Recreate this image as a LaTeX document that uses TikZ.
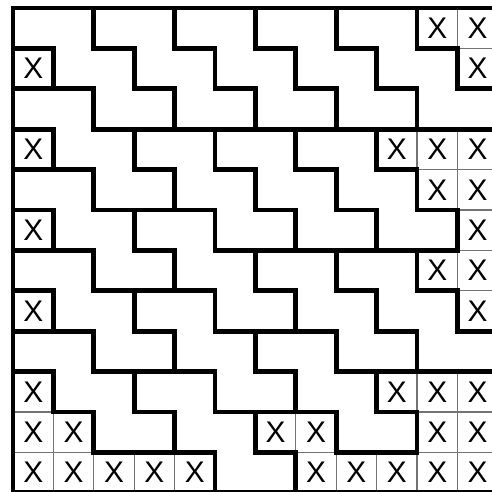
\documentclass[tikz,border=0pt]{standalone}
\usepackage{fontspec}
\setmainfont{Liberation Sans}

\begin{document}
\begin{tikzpicture}[
   every node/.style={font=\fontsize{21}{24}\selectfont},
   xcell/.style={draw=black!55,line width=0.8pt,minimum size=1cm,inner sep=0pt},
   piece/.style={line width=3.3pt,line join=miter},
   frame/.style={line width=3.3pt}
]
\useasboundingbox (-0.322,0.02) rectangle (11.832,12.198);

% Blocked cells (column/row, row 0 at the top)
\foreach \c/\r in {10/0,11/0, 0/1,11/1, 0/3,9/3,10/3,11/3, 10/4,11/4,
                   0/5,11/5, 10/6,11/6, 0/7,11/7, 0/9,9/9,10/9,11/9,
                   0/10,1/10,6/10,7/10,10/10,11/10,
                   0/11,1/11,2/11,3/11,4/11,7/11,8/11,9/11,10/11,11/11}
  \node[xcell] (x\c-\r) at (\c+0.5,11.5-\r) {X};

% Staircase pieces (left cell of top step)
\foreach \s/\r in {0/0,2/0,4/0,6/0,8/0, 0/2, 3/3,5/3,7/3, 0/4, 3/5,
                   0/6,6/6,8/6, 3/7, 0/8,6/8, 3/9}
  \draw[piece] (\s,12-\r) -- ++(2,0) -- ++(0,-1) -- ++(1,0) -- ++(0,-1)
     -- ++(1,0) -- ++(0,-1) -- ++(-2,0) -- ++(0,1) -- ++(-1,0)
     -- ++(0,1) -- ++(-1,0) -- cycle;

% Outer frame
\draw[frame] (0,0) rectangle (12,12);

\end{tikzpicture}
\end{document}
